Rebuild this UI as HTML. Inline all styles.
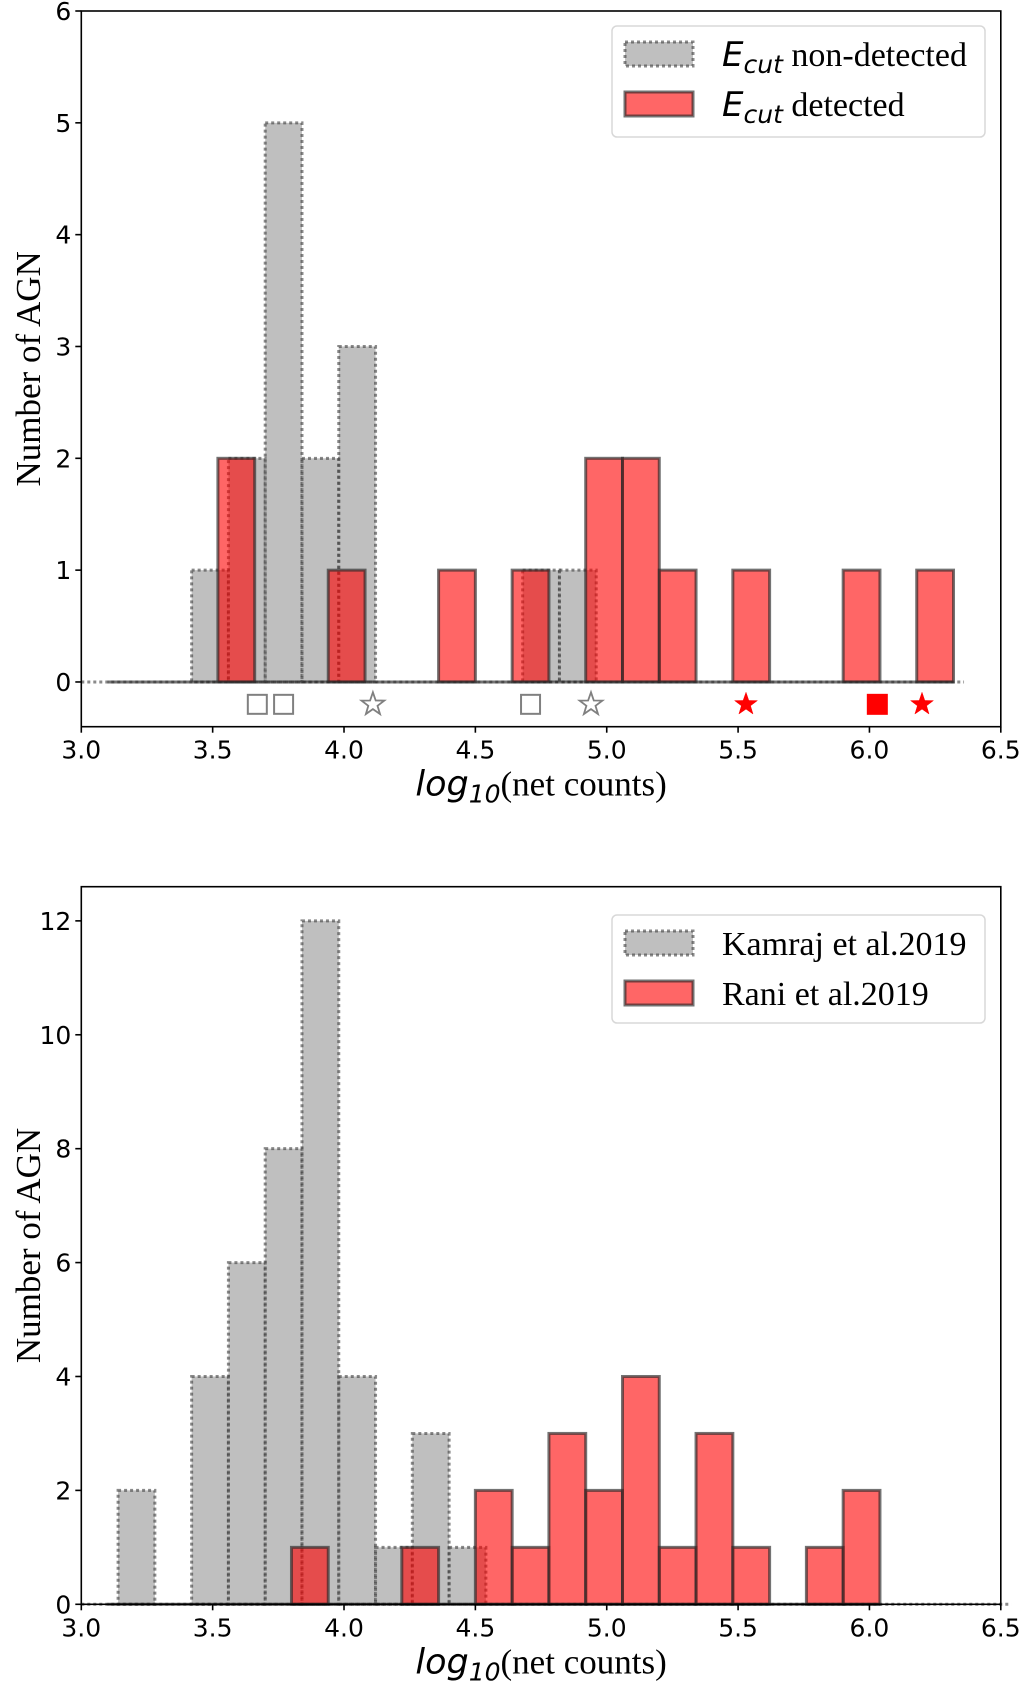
<!DOCTYPE html>
<html><head><meta charset="utf-8">
<style>
html,body{margin:0;padding:0;background:#fff;}
svg{display:block;}
.tick{font-family:"DejaVu Sans",sans-serif;font-size:25px;fill:#000;}
.serif{font-family:"Liberation Serif",serif;fill:#000;}
.ital{font-family:"DejaVu Sans",sans-serif;font-style:italic;fill:#000;}
</style></head>
<body>
<svg id="fig" width="1020" height="1681" viewBox="0 0 1020 1681" xmlns="http://www.w3.org/2000/svg">
</svg>
<script>
// ---- Panel 1 data ----
const topGrayEdgeStart = 3.42;
const topGrayCounts = [1,2,5,2,3,0,0,0,0,1,1];
const topRedEdgeStart = 3.52;
const topRedCounts = [2,0,0,1,0,0,1,0,1,0,2,2,1,0,1,0,0,1,0,1];
const binWidth = 0.14;
const markSquaresGray = [3.67,3.77,4.71];
const markStarsGray = [4.11,4.94];
const markStarsRed = [5.53,6.20];
const markSquaresRed = [6.03];
const markY = -0.2;
const topYTicks = [0,1,2,3,4,5,6];
// ---- Panel 2 data ----
const botGrayEdgeStart = 3.14;
const botGrayCounts = [2,0,4,6,8,12,4,1,3,1];
const botRedEdgeStart = 3.80;
const botRedCounts = [1,0,0,1,0,2,1,3,2,4,1,3,1,0,1,2];
const botYTicks = [0,2,4,6,8,10,12];
const xTicks = [3.0,3.5,4.0,4.5,5.0,5.5,6.0,6.5];

const NS="http://www.w3.org/2000/svg";
const svg=document.getElementById('fig');
function mk(tag,attrs,parent){const e=document.createElementNS(NS,tag);for(const k in attrs)e.setAttribute(k,attrs[k]);(parent||svg).appendChild(e);return e;}

function panel(o){
  const g=mk('g',{});
  
  
  const L=81.3,R=1000.8,T=o.top,B=o.bottom;
  const X=v=>L+(v-3.0)/(6.5-3.0)*(R-L);
  const Y=v=>B-(v-o.ymin)/(o.ymax-o.ymin)*(B-T);
  o.gray.forEach((c,i)=>{
    const x0=X(o.grayStart+i*binWidth),x1=X(o.grayStart+(i+1)*binWidth);
    const r=mk('rect',{x:x0,y:Y(c),width:x1-x0,height:Y(0)-Y(c),fill:'rgba(128,128,128,0.5)',stroke:'rgba(60,60,60,0.6)','stroke-width':3,'stroke-dasharray':'3,3'},g);
    
    
  });
  mk('line',{x1:X(3.0),x2:X(o.grayStart+o.gray.length*binWidth+o.grayExt),y1:Y(0),y2:Y(0),stroke:'rgba(60,60,60,0.6)','stroke-width':3,'stroke-dasharray':'3,3'},g);
  o.red.forEach((c,i)=>{
    const x0=X(o.redStart+i*binWidth),x1=X(o.redStart+(i+1)*binWidth);
    const r=mk('rect',{x:x0,y:Y(c),width:x1-x0,height:Y(0)-Y(c),fill:'rgba(255,0,0,0.6)',stroke:'rgba(40,40,40,0.65)','stroke-width':3},g);
    
    
  });
  mk('line',{x1:X(3.1),x2:X(o.redStart+o.red.length*binWidth),y1:Y(0),y2:Y(0),stroke:'rgba(40,40,40,0.65)','stroke-width':3},g);
  if(o.markers){
    const sq=(v,col,fill)=>{const s=19;const r=mk('rect',{x:X(v)-s/2,y:Y(markY)-s/2,width:s,height:s,fill:fill,stroke:col,'stroke-width':2},g);};
    const star=(v,col,fill)=>{const cx=X(v),cy=Y(markY),ro=12,ri=4.8;let p=[];for(let k=0;k<10;k++){const a=-Math.PI/2+k*Math.PI/5;const rr=k%2?ri:ro;p.push((cx+rr*Math.cos(a)).toFixed(1)+','+(cy+rr*Math.sin(a)).toFixed(1));}
      const s=mk('polygon',{points:p.join(' '),fill:fill,stroke:col,'stroke-width':fill==='none'?1.8:0.5},g);};
    markSquaresGray.forEach(v=>sq(v,'#808080','none'));
    markStarsGray.forEach(v=>star(v,'#808080','none'));
    markStarsRed.forEach(v=>star(v,'#ff0000','#ff0000'));
    markSquaresRed.forEach(v=>sq(v,'#ff0000','#ff0000'));
  }
  const f=mk('rect',{x:L,y:T,width:R-L,height:B-T,fill:'none',stroke:'#000','stroke-width':1.6},g);
  
  
  xTicks.forEach(v=>{
    mk('line',{x1:X(v),x2:X(v),y1:B,y2:B+6,stroke:'#000','stroke-width':1.6},g);
    const t=mk('text',{x:X(v),y:B+32,'text-anchor':'middle',class:'tick'},g);t.textContent=v.toFixed(1);
    
  });
  o.yticks.forEach(v=>{
    mk('line',{x1:L-6,x2:L,y1:Y(v),y2:Y(v),stroke:'#000','stroke-width':1.6},g);
    const t=mk('text',{x:L-10,y:Y(v)+9,'text-anchor':'end',class:'tick'},g);t.textContent=v;
    
  });
  const yl=mk('text',{x:0,y:0,transform:`translate(40,${(T+B)/2}) rotate(-90)`,'text-anchor':'middle',class:'serif','font-size':35},g);
  yl.textContent='Number of AGN';
  
  const xl=mk('text',{x:(L+R)/2,y:B+69,'text-anchor':'middle'},g);
  
  const t1=mk('tspan',{class:'ital','font-size':35},xl);t1.textContent='log';
  const t2=mk('tspan',{class:'ital','font-size':25,dy:7},xl);t2.textContent='10';
  const t3=mk('tspan',{class:'serif','font-size':35,dy:-7},xl);t3.textContent='(net counts)';
  const lg=mk('g',{},g);
  
  const ly=o.legendTop;
  mk('rect',{x:612,y:ly,width:373,height:o.legendH,rx:5,fill:'#fff',stroke:'#d8d8d8','stroke-width':1.5},lg);
  const p1=mk('rect',{x:625,y:ly+16,width:68,height:24,fill:'rgba(128,128,128,0.5)',stroke:'rgba(60,60,60,0.6)','stroke-width':3,'stroke-dasharray':'3,3'},lg);
  
  const p2=mk('rect',{x:625,y:ly+66,width:68,height:24,fill:'rgba(255,0,0,0.6)',stroke:'rgba(40,40,40,0.65)','stroke-width':3},lg);
  
  o.labels.forEach((lab,i)=>{
    const t=mk('text',{x:722,y:ly+40+i*50},lg);
    
    if(o.ecut){
      const a=mk('tspan',{class:'ital','font-size':34},t);a.textContent='E';
      const b=mk('tspan',{class:'ital','font-size':25,dy:7},t);b.textContent='cut';
      const c=mk('tspan',{class:'serif','font-size':34,dy:-7},t);c.textContent=' '+lab;
    } else {
      const c=mk('tspan',{class:'serif','font-size':34},t);c.textContent=lab;
    }
  });
}
panel({name:'top-histogram',top:11,bottom:726.7,ymin:-0.4,ymax:6,gray:topGrayCounts,grayStart:topGrayEdgeStart,grayExt:1.4,red:topRedCounts,redStart:topRedEdgeStart,yticks:topYTicks,markers:true,legendTop:26,legendH:111,labels:['non-detected','detected'],ecut:true});
panel({name:'bottom-histogram',top:886.7,bottom:1604.3,ymin:0,ymax:12.6,gray:botGrayCounts,grayStart:botGrayEdgeStart,grayExt:2.0,red:botRedCounts,redStart:botRedEdgeStart,yticks:botYTicks,markers:false,legendTop:915,legendH:108,labels:['Kamraj et al.2019','Rani et al.2019'],ecut:false});
</script>
</body></html>
